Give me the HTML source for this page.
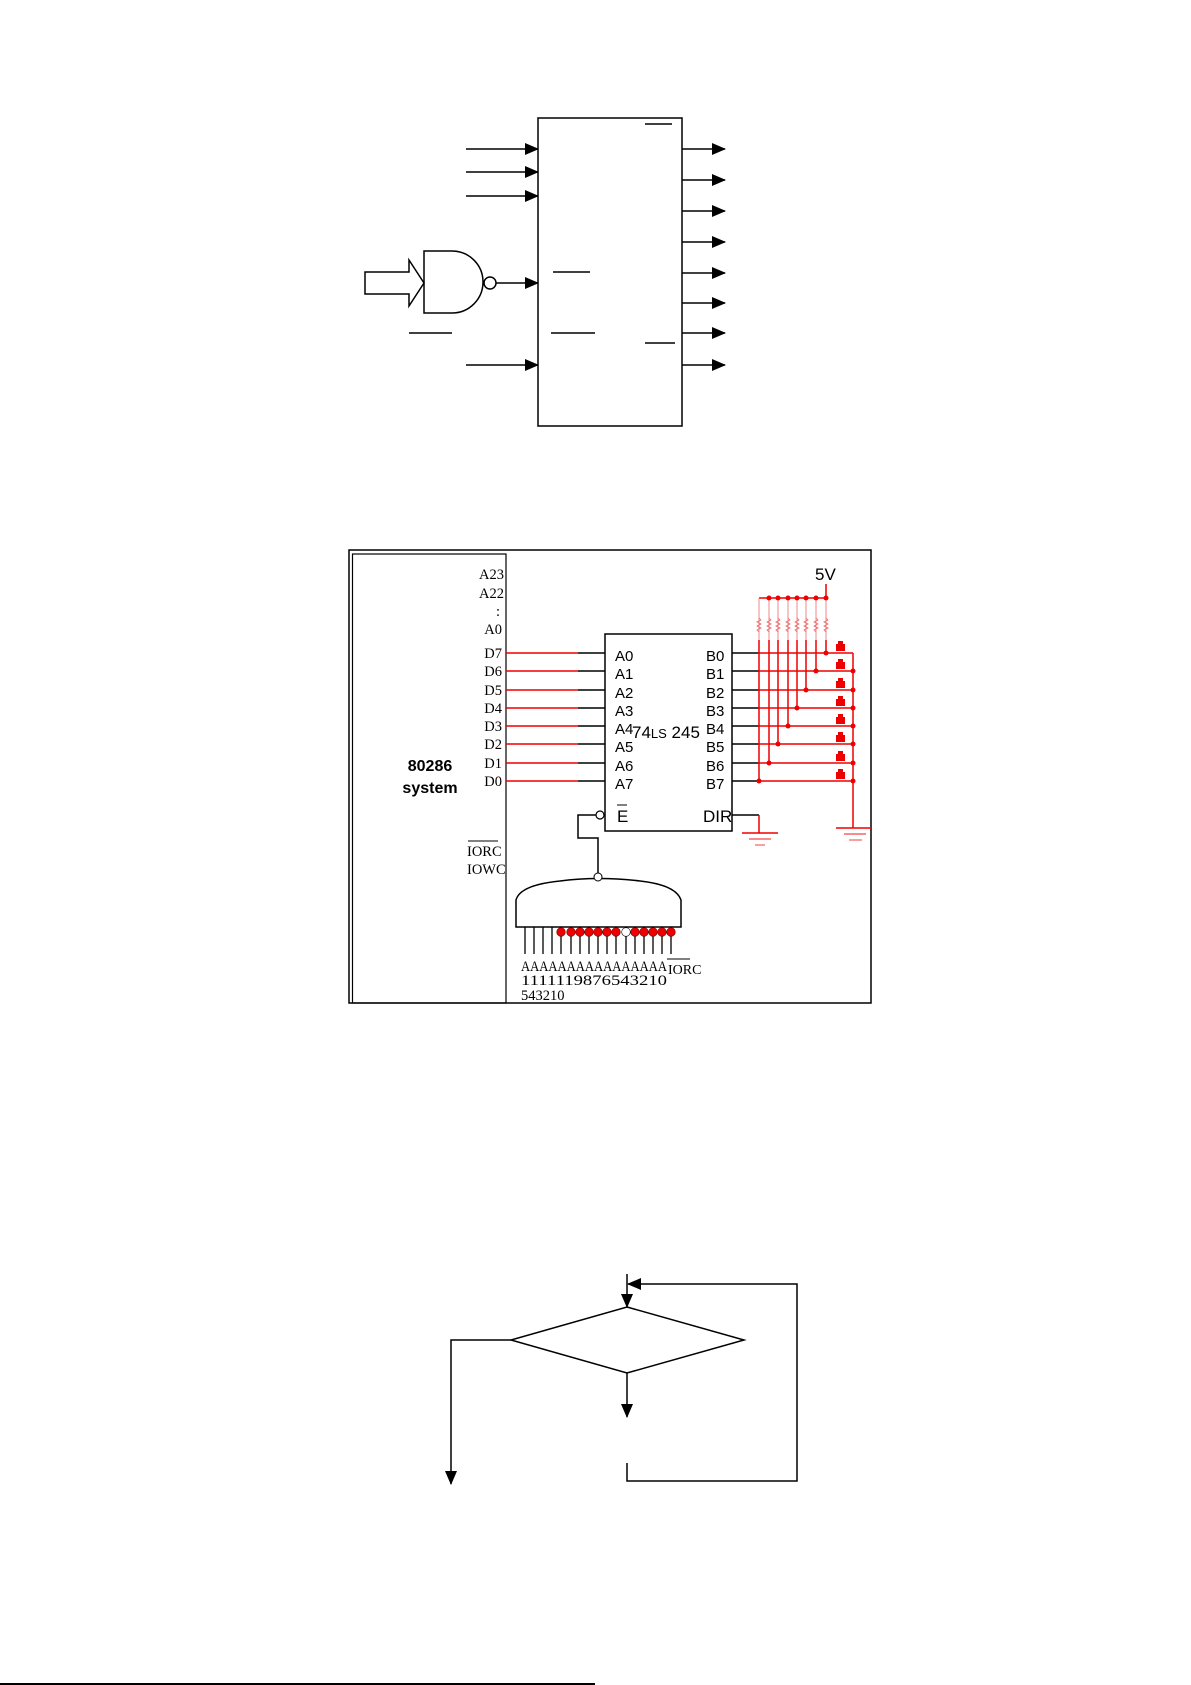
<!DOCTYPE html>
<html><head><meta charset="utf-8"><style>
html,body{margin:0;padding:0;background:#fff}
svg{display:block}
text{font-family:"Liberation Serif",serif;fill:#000}
.s{font-family:"Liberation Sans",sans-serif}
</style></head><body>
<svg width="1191" height="1685" viewBox="0 0 1191 1685" xmlns="http://www.w3.org/2000/svg">
<defs>
<marker id="ah" markerWidth="14" markerHeight="12" refX="13" refY="6" orient="auto" markerUnits="userSpaceOnUse" viewBox="0 0 14 12"><path d="M0,0 L14,6 L0,12 z" fill="#000"/></marker>
</defs>
<!-- Top diagram -->
<g stroke="#000" stroke-width="1.5" fill="none">
<rect x="538" y="118" width="144" height="308"/>
<line x1="466" y1="149" x2="538" y2="149" marker-end="url(#ah)"/>
<line x1="466" y1="172" x2="538" y2="172" marker-end="url(#ah)"/>
<line x1="466" y1="196" x2="538" y2="196" marker-end="url(#ah)"/>
<line x1="466" y1="365" x2="538" y2="365" marker-end="url(#ah)"/>
<line x1="496" y1="283" x2="538" y2="283" marker-end="url(#ah)"/>
<path d="M365,272 H409 V260 L424,283 L409,306 V294 H365 Z"/>
<path d="M424,251 H452 A31,31 0 0 1 452,313 H424 Z"/>
<circle cx="490" cy="283" r="6"/>
<line x1="645" y1="124" x2="672" y2="124"/>
<line x1="553" y1="272" x2="590" y2="272"/>
<line x1="551" y1="333" x2="595" y2="333"/>
<line x1="409" y1="333" x2="452" y2="333"/>
<line x1="645" y1="343" x2="675" y2="343"/>
<line x1="682" y1="149" x2="725" y2="149" marker-end="url(#ah)"/>
<line x1="682" y1="180" x2="725" y2="180" marker-end="url(#ah)"/>
<line x1="682" y1="211" x2="725" y2="211" marker-end="url(#ah)"/>
<line x1="682" y1="242" x2="725" y2="242" marker-end="url(#ah)"/>
<line x1="682" y1="273" x2="725" y2="273" marker-end="url(#ah)"/>
<line x1="682" y1="303" x2="725" y2="303" marker-end="url(#ah)"/>
<line x1="682" y1="333" x2="725" y2="333" marker-end="url(#ah)"/>
<line x1="682" y1="365" x2="725" y2="365" marker-end="url(#ah)"/>
</g>

<!-- Middle diagram -->
<g fill="none" stroke="#000">
<rect x="349" y="550" width="522" height="453" stroke-width="1.5"/>
<rect x="352.5" y="554" width="153.5" height="449" stroke-width="1.2"/>
<rect x="605" y="634" width="127" height="197" stroke-width="1.5"/>
</g>
<g font-size="14.5">
<text x="504" y="579" text-anchor="end">A23</text>
<text x="504" y="598" text-anchor="end">A22</text>
<text x="500" y="616" text-anchor="end">:</text>
<text x="502" y="634" text-anchor="end">A0</text>
<text x="502" y="658" text-anchor="end">D7</text>
<text x="502" y="676" text-anchor="end">D6</text>
<text x="502" y="695" text-anchor="end">D5</text>
<text x="502" y="713" text-anchor="end">D4</text>
<text x="502" y="731" text-anchor="end">D3</text>
<text x="502" y="749" text-anchor="end">D2</text>
<text x="502" y="768" text-anchor="end">D1</text>
<text x="502" y="786" text-anchor="end">D0</text>
<text x="467" y="856">IORC</text>
<text x="467" y="874">IOWC</text>
</g>
<line x1="468" y1="841" x2="498" y2="841" stroke="#000"/>
<text x="430" y="771" text-anchor="middle" font-weight="bold" font-size="16" class="s">80286</text>
<text x="430" y="793" text-anchor="middle" font-weight="bold" font-size="16" class="s">system</text>
<g font-size="15">
<text x="615" y="661" class="s">A0</text>
<text x="615" y="679" class="s">A1</text>
<text x="615" y="698" class="s">A2</text>
<text x="615" y="716" class="s">A3</text>
<text x="615" y="734" class="s">A4</text>
<text x="615" y="752" class="s">A5</text>
<text x="615" y="771" class="s">A6</text>
<text x="615" y="789" class="s">A7</text>
<text x="706" y="661" class="s">B0</text>
<text x="706" y="679" class="s">B1</text>
<text x="706" y="698" class="s">B2</text>
<text x="706" y="716" class="s">B3</text>
<text x="706" y="734" class="s">B4</text>
<text x="706" y="752" class="s">B5</text>
<text x="706" y="771" class="s">B6</text>
<text x="706" y="789" class="s">B7</text>
<text x="632" y="738" font-size="17" class="s">74<tspan font-size="13">LS</tspan> 245</text>
<text x="617" y="822" font-size="17" class="s">E</text>
<text x="703" y="822" font-size="17" class="s">DIR</text>
<text x="815" y="580" font-size="17" class="s">5V</text>
</g>
<line x1="617" y1="805" x2="627" y2="805" stroke="#000"/>
<g stroke-width="1.5">
<g stroke="#e00">
<line x1="506" y1="653" x2="578" y2="653"/><line x1="506" y1="671" x2="578" y2="671"/>
<line x1="506" y1="690" x2="578" y2="690"/><line x1="506" y1="708" x2="578" y2="708"/>
<line x1="506" y1="726" x2="578" y2="726"/><line x1="506" y1="744" x2="578" y2="744"/>
<line x1="506" y1="763" x2="578" y2="763"/><line x1="506" y1="781" x2="578" y2="781"/>
</g>
<g stroke="#000">
<line x1="578" y1="653" x2="605" y2="653"/><line x1="578" y1="671" x2="605" y2="671"/>
<line x1="578" y1="690" x2="605" y2="690"/><line x1="578" y1="708" x2="605" y2="708"/>
<line x1="578" y1="726" x2="605" y2="726"/><line x1="578" y1="744" x2="605" y2="744"/>
<line x1="578" y1="763" x2="605" y2="763"/><line x1="578" y1="781" x2="605" y2="781"/>
<line x1="732" y1="653" x2="759" y2="653"/><line x1="732" y1="671" x2="759" y2="671"/>
<line x1="732" y1="690" x2="759" y2="690"/><line x1="732" y1="708" x2="759" y2="708"/>
<line x1="732" y1="726" x2="759" y2="726"/><line x1="732" y1="744" x2="759" y2="744"/>
<line x1="732" y1="763" x2="759" y2="763"/><line x1="732" y1="781" x2="759" y2="781"/>
<line x1="732" y1="815" x2="759" y2="815"/>
<polyline points="596,815 578,815 578,838 598,838 598,873" fill="none"/>
</g>
<circle cx="600" cy="815" r="4" fill="#fff" stroke="#000" stroke-width="1.2"/>
<g stroke="#e00" fill="none">
<line x1="759" y1="653" x2="853" y2="653"/><line x1="759" y1="671" x2="853" y2="671"/>
<line x1="759" y1="690" x2="853" y2="690"/><line x1="759" y1="708" x2="853" y2="708"/>
<line x1="759" y1="726" x2="853" y2="726"/><line x1="759" y1="744" x2="853" y2="744"/>
<line x1="759" y1="763" x2="853" y2="763"/><line x1="759" y1="781" x2="853" y2="781"/>
<line x1="759" y1="598" x2="826" y2="598"/>
<line x1="826" y1="584" x2="826" y2="598"/>
<line x1="826" y1="640" x2="826" y2="653"/>
<line x1="816" y1="640" x2="816" y2="671"/>
<line x1="806" y1="640" x2="806" y2="690"/>
<line x1="797" y1="640" x2="797" y2="708"/>
<line x1="788" y1="640" x2="788" y2="726"/>
<line x1="778" y1="640" x2="778" y2="744"/>
<line x1="769" y1="640" x2="769" y2="763"/>
<line x1="759" y1="640" x2="759" y2="781"/>
<line x1="853" y1="653" x2="853" y2="828"/>
<line x1="759" y1="815" x2="759" y2="833"/>
<line x1="742" y1="833" x2="778" y2="833"/>
<line x1="749" y1="839" x2="771" y2="839" stroke-opacity="0.6"/>
<line x1="755" y1="845" x2="765" y2="845" stroke-opacity="0.5"/>
<line x1="836" y1="828" x2="872" y2="828"/>
<line x1="844" y1="834" x2="866" y2="834" stroke-opacity="0.6"/>
<line x1="849" y1="840" x2="862" y2="840" stroke-opacity="0.5"/>
</g>
<g stroke="#e88" stroke-width="1" fill="none">
<line x1="759" y1="598" x2="759" y2="640"/><line x1="769" y1="598" x2="769" y2="640"/>
<line x1="778" y1="598" x2="778" y2="640"/><line x1="788" y1="598" x2="788" y2="640"/>
<line x1="797" y1="598" x2="797" y2="640"/><line x1="806" y1="598" x2="806" y2="640"/>
<line x1="816" y1="598" x2="816" y2="640"/><line x1="826" y1="598" x2="826" y2="640"/>
</g>
</g>
<g fill="#e00">
<circle cx="769" cy="598" r="2.5"/><circle cx="778" cy="598" r="2.5"/><circle cx="788" cy="598" r="2.5"/>
<circle cx="797" cy="598" r="2.5"/><circle cx="806" cy="598" r="2.5"/><circle cx="816" cy="598" r="2.5"/><circle cx="826" cy="598" r="2.5"/>
<circle cx="826" cy="653" r="2.5"/><circle cx="816" cy="671" r="2.5"/><circle cx="806" cy="690" r="2.5"/>
<circle cx="797" cy="708" r="2.5"/><circle cx="788" cy="726" r="2.5"/><circle cx="778" cy="744" r="2.5"/>
<circle cx="769" cy="763" r="2.5"/><circle cx="759" cy="781" r="2.5"/>
<circle cx="853" cy="671" r="2.5"/><circle cx="853" cy="690" r="2.5"/><circle cx="853" cy="708" r="2.5"/>
<circle cx="853" cy="726" r="2.5"/><circle cx="853" cy="744" r="2.5"/><circle cx="853" cy="763" r="2.5"/><circle cx="853" cy="781" r="2.5"/>
<rect x="836" y="644" width="9" height="7"/><rect x="838" y="641" width="5" height="4"/>
<rect x="836" y="662" width="9" height="7"/><rect x="838" y="659" width="5" height="4"/>
<rect x="836" y="681" width="9" height="7"/><rect x="838" y="678" width="5" height="4"/>
<rect x="836" y="699" width="9" height="7"/><rect x="838" y="696" width="5" height="4"/>
<rect x="836" y="717" width="9" height="7"/><rect x="838" y="714" width="5" height="4"/>
<rect x="836" y="735" width="9" height="7"/><rect x="838" y="732" width="5" height="4"/>
<rect x="836" y="754" width="9" height="7"/><rect x="838" y="751" width="5" height="4"/>
<rect x="836" y="772" width="9" height="7"/><rect x="838" y="769" width="5" height="4"/>
</g>
<g stroke="#e66" stroke-width="0.8" fill="none">
<path id="rz" d="M759,618 l2,2 l-4,2 l4,2 l-4,2 l4,2 l-4,2 l2,2"/>
<use href="#rz" x="10"/><use href="#rz" x="19"/><use href="#rz" x="29"/><use href="#rz" x="38"/><use href="#rz" x="47"/><use href="#rz" x="57"/><use href="#rz" x="67"/>
</g>
<!-- decoder gate -->
<path d="M516,927 V900 Q520,885 560,881 Q598,876 640,881 Q676,885 681,900 V927 Z" fill="#fff" stroke="#000" stroke-width="1.5"/>
<circle cx="598" cy="877" r="4" fill="#fff" stroke="#000"/>
<g stroke="#000" stroke-width="1.3">
<line x1="525" y1="927" x2="525" y2="954"/><line x1="534" y1="927" x2="534" y2="954"/>
<line x1="543" y1="927" x2="543" y2="954"/><line x1="552" y1="927" x2="552" y2="954"/>
<line x1="561" y1="927" x2="561" y2="954"/><line x1="571" y1="927" x2="571" y2="954"/>
<line x1="580" y1="927" x2="580" y2="954"/><line x1="589" y1="927" x2="589" y2="954"/>
<line x1="598" y1="927" x2="598" y2="954"/><line x1="607" y1="927" x2="607" y2="954"/>
<line x1="616" y1="927" x2="616" y2="954"/><line x1="626" y1="927" x2="626" y2="954"/>
<line x1="635" y1="927" x2="635" y2="954"/><line x1="644" y1="927" x2="644" y2="954"/>
<line x1="653" y1="927" x2="653" y2="954"/><line x1="662" y1="927" x2="662" y2="954"/>
<line x1="671" y1="927" x2="671" y2="954"/>
</g>
<g fill="#e00" stroke="#600" stroke-width="0.6">
<circle cx="561" cy="932" r="4.3"/><circle cx="571" cy="932" r="4.3"/><circle cx="580" cy="932" r="4.3"/>
<circle cx="589" cy="932" r="4.3"/><circle cx="598" cy="932" r="4.3"/><circle cx="607" cy="932" r="4.3"/>
<circle cx="616" cy="932" r="4.3"/><circle cx="626" cy="932" r="4.3" fill="#fff" stroke="#000"/>
<circle cx="635" cy="932" r="4.3"/><circle cx="644" cy="932" r="4.3"/><circle cx="653" cy="932" r="4.3"/>
<circle cx="662" cy="932" r="4.3"/><circle cx="671" cy="932" r="4.3"/>
</g>
<g font-size="14.5">
<text x="521" y="971" textLength="146" lengthAdjust="spacingAndGlyphs">AAAAAAAAAAAAAAAA</text>
<text x="521" y="985" textLength="146" lengthAdjust="spacingAndGlyphs">1111119876543210</text>
<text x="521" y="1000">543210</text>
<text x="668" y="974" font-size="14">IORC</text>
</g>
<line x1="667" y1="959" x2="690" y2="959" stroke="#000"/>

<!-- Flowchart -->
<g stroke="#000" stroke-width="1.5" fill="none">
<polygon points="627,1307 744,1340 627,1373 511,1340"/>
<line x1="627" y1="1274" x2="627" y2="1307" marker-end="url(#ah)"/>
<polyline points="627,1463 627,1481 797,1481 797,1284 628,1284" marker-end="url(#ah)"/>
<polyline points="511,1340 451,1340 451,1484" marker-end="url(#ah)"/>
<line x1="627" y1="1373" x2="627" y2="1417" marker-end="url(#ah)"/>
</g>
<line x1="0" y1="1684" x2="595" y2="1684" stroke="#000" stroke-width="2"/>
</svg>
</body></html>
